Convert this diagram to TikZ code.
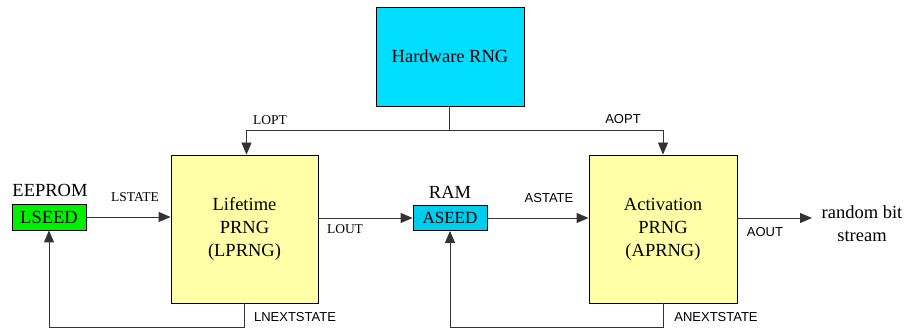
\documentclass[tikz,border=0pt]{standalone}
\usepackage{fontspec}
\setmainfont{Liberation Serif}
\newfontfamily\labsans{Liberation Sans}
\usetikzlibrary{arrows.meta}
\definecolor{hwcyan}{HTML}{00DDFF}
\definecolor{ramcyan}{HTML}{00CCEE}
\definecolor{boxyellow}{HTML}{FFFFA8}
\definecolor{seedgreen}{HTML}{00F000}
\definecolor{linegray}{HTML}{333333}
\tikzset{
  box/.style={draw=black, line width=0.9pt, inner sep=0pt, align=center},
  big/.style={font=\fontsize{18.5}{23}\selectfont},
  small/.style={font=\fontsize{13.5}{15}\selectfont, inner sep=0pt},
  smallsans/.style={font=\labsans\fontsize{13}{15}\selectfont, inner sep=0pt},
  conn/.style={draw=linegray, line width=0.9pt},
  arr/.style={conn, -{Triangle[length=12pt,width=10pt]}},
}
\begin{document}
\begin{tikzpicture}[x=1pt,y=-1pt]
\useasboundingbox (0,0) rectangle (906,331);
% boxes
\node[box, fill=hwcyan, minimum width=148pt, minimum height=99pt, big] (hw) at (450,56.5) {Hardware RNG};
\node[box, fill=boxyellow, minimum width=147pt, minimum height=148pt, big] (lprng) at (244.5,229) {Lifetime\\PRNG\\(LPRNG)};
\node[box, fill=boxyellow, minimum width=148pt, minimum height=148pt, big] (aprng) at (663,229) {Activation\\PRNG\\(APRNG)};
\node[box, fill=seedgreen, minimum width=74pt, minimum height=26pt, big] (lseed) at (49,217) {LSEED};
\node[box, fill=ramcyan, minimum width=74pt, minimum height=25pt, font=\fontsize{17}{20}\selectfont] (aseed) at (450,218) {ASEED};
% titles
\node[big, inner sep=0pt] (eeprom) at (50,190) {EEPROM};
\node[big, inner sep=0pt] (ram) at (450,192) {RAM};
\node[big, inner sep=0pt, align=center] (rbs) at (862,224) {random bit\\stream};
% coordinates
\coordinate (split) at (449,130);
\coordinate (bot) at (0,327);
\coordinate (outend) at (812,218);
% connectors
\draw[conn] (hw.south -| split) -- (split);
\draw[arr] (split) -| ([xshift=2pt]lprng.north);
\draw[arr] (split) -| (aprng.north);
\draw[arr] (lseed.east) -- (lprng.west |- lseed.east);
\draw[arr] (lprng.east |- aseed.west) -- (aseed.west);
\draw[arr] (aseed.east) -- (aprng.west |- aseed.east);
\draw[arr] (aprng.east |- aseed.east) -- (outend);
\draw[arr] (lprng.south) -- (lprng.south |- bot) -| (lseed.south);
\draw[arr] (aprng.south) -- (aprng.south |- bot) -| (aseed.south);
% labels
\node[small] (lopt) at (270,120) {LOPT};
\node[smallsans] (aopt) at (623,119) {AOPT};
\node[small] (lstate) at (135,197) {LSTATE};
\node[small] (lout) at (345,229) {LOUT};
\node[smallsans] (astate) at (549,198) {ASTATE};
\node[smallsans] (aout) at (765,232) {AOUT};
\node[smallsans] (lnext) at (295,317) {LNEXTSTATE};
\node[smallsans] (anext) at (716,317) {ANEXTSTATE};
\end{tikzpicture}
\end{document}
